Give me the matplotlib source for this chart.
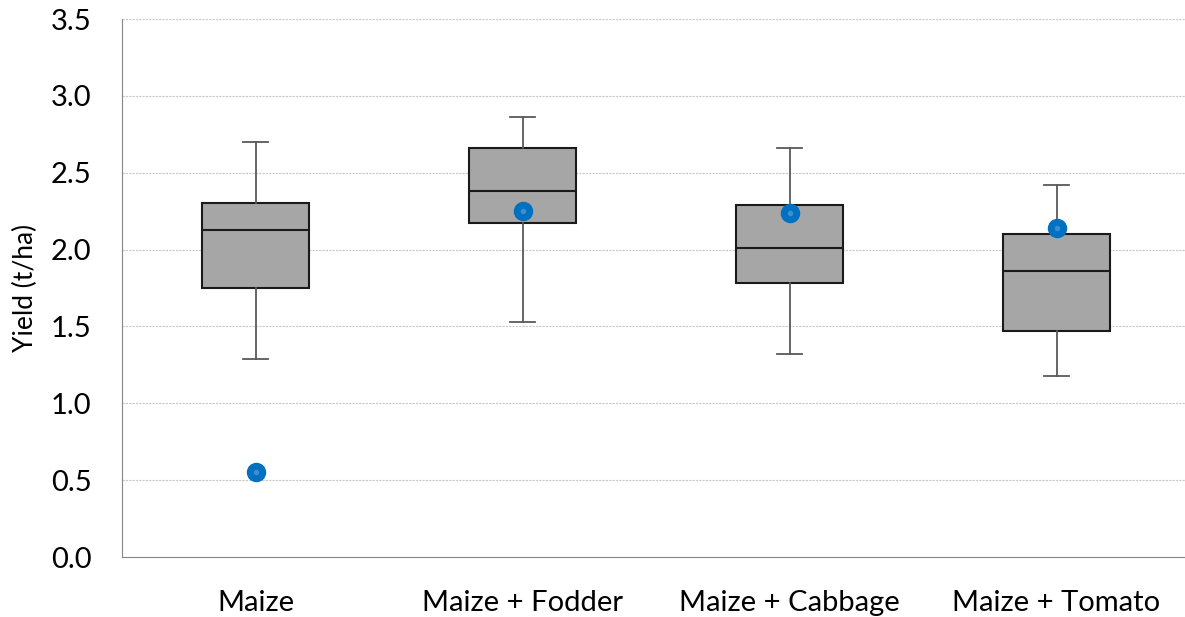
import matplotlib
matplotlib.use("Agg")
import matplotlib.pyplot as plt

plt.rcParams['font.family'] = ['Lato', 'DejaVu Sans']

# values
categories = ['Maize', 'Maize + Fodder', 'Maize + Cabbage', 'Maize + Tomato']
whisker_low = [1.29, 1.53, 1.32, 1.18]
q1 = [1.75, 2.17, 1.78, 1.47]
median = [2.13, 2.38, 2.01, 1.86]
q3 = [2.30, 2.66, 2.29, 2.10]
whisker_high = [2.70, 2.86, 2.66, 2.42]
points = [0.55, 2.25, 2.24, 2.14]
yticks = [0.0, 0.5, 1.0, 1.5, 2.0, 2.5, 3.0, 3.5]

fig = plt.figure(figsize=(11.85, 6.17), dpi=100)
ax = fig.add_axes([122 / 1185, 60 / 617, (1185 - 122) / 1185, (557 - 19) / 617])

stats = []
for i, name in enumerate(categories):
    stats.append({'label': name, 'whislo': whisker_low[i], 'q1': q1[i],
                  'med': median[i], 'q3': q3[i], 'whishi': whisker_high[i],
                  'fliers': []})

xs = list(range(1, len(categories) + 1))
ax.bxp(stats, positions=xs, widths=0.4, patch_artist=True, showfliers=False,
       boxprops=dict(facecolor='#A6A6A6', edgecolor='#1a1a1a', linewidth=1.5),
       medianprops=dict(color='#1a1a1a', linewidth=1.5),
       whiskerprops=dict(color='#595959', linewidth=1.3),
       capprops=dict(color='#595959', linewidth=1.3),
       capwidths=0.09, zorder=2)

# mean markers: blue dot with a lighter centre
ax.plot(xs, points, 'o', color='#0070C0', markersize=13,
        markeredgecolor='#0070C0', zorder=4, linestyle='none')
ax.plot(xs, points, 'o', color='#3a8fd0', markersize=4,
        markeredgewidth=0, zorder=5, linestyle='none')

ax.set_xlim(0.5, 4.5 - 5 / 267)
ax.set_ylim(0, 3.5)
ax.set_yticks(yticks)
ax.set_yticklabels([f'{t:.1f}' for t in yticks])
ax.yaxis.grid(True, color='#c8c8c8', linestyle=(0, (2, 1)), linewidth=0.8)
ax.set_axisbelow(True)
ax.set_xticks(xs)
ax.set_xticklabels(categories)
ax.tick_params(axis='both', length=0, labelsize=21, colors='black')
ax.tick_params(axis='y', pad=22)
ax.tick_params(axis='x', pad=24)

for side in ['top', 'right']:
    ax.spines[side].set_visible(False)
ax.spines['left'].set_color('#868686')
ax.spines['bottom'].set_color('#868686')

ax.set_ylabel('Yield (t/ha)', fontsize=19, labelpad=9)

fig.savefig('out.png', dpi=100)
